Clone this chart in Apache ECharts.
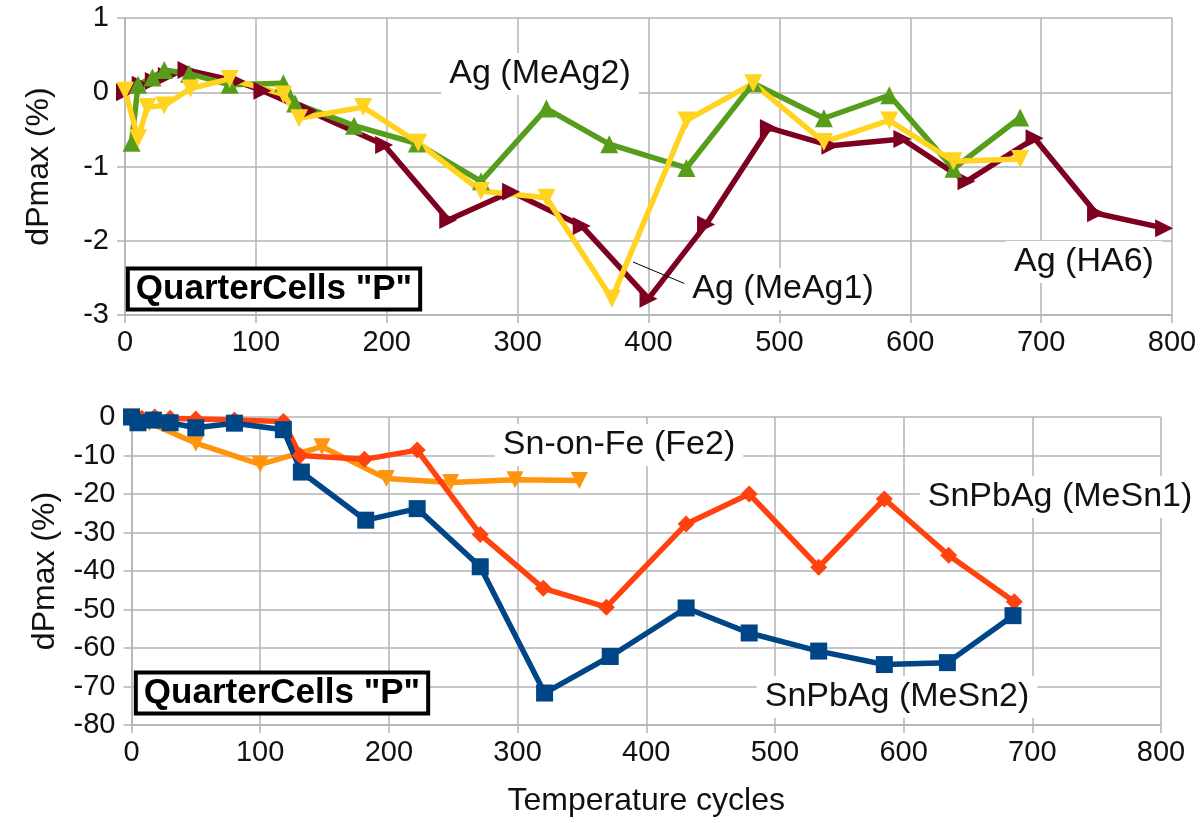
<!DOCTYPE html>
<html>
<head>
<meta charset="utf-8">
<script src="https://cdn.jsdelivr.net/npm/echarts@6/dist/echarts.min.js"></script>
<style>
  html, body { margin: 0; padding: 0; background: #fff; }
  #chart { width: 1202px; height: 823px; }
</style>
</head>
<body>
<div id="chart"></div>
<script>
// top panel: Ag cells
const ha6X = [0, 12, 22, 32, 47, 85, 105, 140, 198, 247, 295, 349, 400, 444, 492, 539, 594, 643, 695, 742, 794]
const ha6Y = [0, 0.1, 0.15, 0.22, 0.3, 0.15, 0.02, -0.25, -0.71, -1.72, -1.34, -1.8, -2.78, -1.78, -0.48, -0.72, -0.63, -1.2, -0.62, -1.63, -1.83]
const meAg2X = [5, 10, 21, 30, 49, 80, 121, 130, 175, 223, 272, 322, 370, 429, 480, 534, 584, 633, 684]
const meAg2Y = [-0.68, 0.1, 0.2, 0.3, 0.25, 0.1, 0.12, -0.15, -0.45, -0.69, -1.2, -0.22, -0.7, -1.02, 0.12, -0.35, -0.04, -1.03, -0.34]
const meAg1X = [0, 10, 17, 30, 50, 80, 121, 133, 182, 224, 272, 322, 372, 429, 480, 534, 584, 633, 684]
const meAg1Y = [0.02, -0.62, -0.2, -0.18, 0.05, 0.18, -0.03, -0.35, -0.2, -0.68, -1.33, -1.42, -2.78, -0.38, 0.12, -0.67, -0.38, -0.93, -0.9]

// bottom panel: Sn cells
const fe2X = [0, 14, 50, 100, 148, 198, 248, 298, 348]
const fe2Y = [0, -1.5, -6.8, -12.3, -7.7, -16, -17, -16.3, -16.5]
const meSn1X = [0, 8, 18, 30, 50, 80, 118, 131, 181, 222, 271, 320, 369, 431, 480, 534, 585, 635, 686]
const meSn1Y = [0, -0.3, 0, -0.3, -0.5, -0.8, -1.2, -10, -11, -8.6, -30.5, -44.5, -49.4, -27.8, -20, -39, -21.3, -35.9, -48]
const meSn2X = [0, 5, 17, 30, 50, 80, 118, 132, 182, 222, 271, 321, 372, 431, 480, 534, 585, 634, 685]
const meSn2Y = [0, -1.5, -0.8, -1.5, -2.8, -1.6, -3.3, -14.3, -26.8, -23.8, -38.9, -71.7, -62.2, -49.6, -56.1, -60.8, -64.3, -63.8, -51.6]

const xTicks = [0, 100, 200, 300, 400, 500, 600, 700, 800]

const FONT = 'Liberation Sans'
const GRID = '#b3b3b3'

function pairs (xs, ys) {
  return xs.map((x, i) => [x, ys[i]])
}

function mkSeries (name, xs, ys, color, symbol, rotate, size, idx) {
  return {
    name: name,
    type: 'line',
    xAxisIndex: idx,
    yAxisIndex: idx,
    data: pairs(xs, ys),
    symbol: symbol,
    symbolRotate: rotate,
    symbolSize: size,
    showSymbol: true,
    lineStyle: { color: color, width: 5.5 },
    itemStyle: { color: color, borderWidth: 0 },
    emphasis: { disabled: true },
    animation: false
  }
}

function xAxisCfg (idx, withName) {
  let cfg = {
    type: 'value',
    gridIndex: idx,
    min: xTicks[0],
    max: xTicks[xTicks.length - 1],
    interval: 100,
    axisLine: { show: true, onZero: false, lineStyle: { color: GRID, width: 1.5 } },
    axisTick: { show: true, length: 8, lineStyle: { color: GRID, width: 1.5 } },
    splitLine: { show: true, lineStyle: { color: GRID, width: 1.5 } },
    axisLabel: { fontFamily: FONT, fontSize: 29, color: '#111', margin: 13 }
  }
  if (withName) {
    cfg.name = 'Temperature cycles'
    cfg.nameLocation = 'middle'
    cfg.nameGap = 60
    cfg.nameTextStyle = { fontFamily: FONT, fontSize: 32, color: '#111' }
  }
  return cfg
}

function yAxisCfg (idx, min, max, interval) {
  return {
    type: 'value',
    gridIndex: idx,
    min: min,
    max: max,
    interval: interval,
    name: 'dPmax (%)',
    nameLocation: 'middle',
    nameGap: 70,
    nameTextStyle: { fontFamily: FONT, fontSize: 32, color: '#111' },
    axisLine: { show: true, lineStyle: { color: GRID, width: 1.5 } },
    axisTick: { show: true, length: 8, lineStyle: { color: GRID, width: 1.5 } },
    splitLine: { show: true, lineStyle: { color: GRID, width: 1.5 } },
    axisLabel: { fontFamily: FONT, fontSize: 29, color: '#111', margin: 16 }
  }
}

function note (text, x, y, size) {
  return {
    type: 'text',
    x: x,
    y: y,
    z: 100,
    style: {
      text: text,
      font: (size || 34) + 'px "' + FONT + '"',
      fill: '#111',
      align: 'center',
      verticalAlign: 'middle',
      backgroundColor: '#fff',
      padding: [4, 8]
    }
  }
}

function boxNote (x, y) {
  return {
    type: 'text',
    x: x,
    y: y,
    z: 100,
    style: {
      text: 'QuarterCells "P"',
      font: 'bold 35px "' + FONT + '"',
      fill: '#000',
      align: 'center',
      verticalAlign: 'middle',
      backgroundColor: '#fff',
      borderColor: '#000',
      borderWidth: 4,
      padding: [2, 6, 0, 6]
    }
  }
}

const chart = echarts.init(document.getElementById('chart'), null, { renderer: 'canvas' })

const option = {
  backgroundColor: '#fff',
  animation: false,
  grid: [
    { left: 125, top: 18, width: 1047, height: 297 },
    { left: 131.5, top: 417, width: 1029.5, height: 308 }
  ],
  xAxis: [xAxisCfg(0, false), xAxisCfg(1, true)],
  yAxis: [yAxisCfg(0, -3, 1, 1), yAxisCfg(1, -80, 0, 10)],
  series: [
    mkSeries('Ag (HA6)', ha6X, ha6Y, '#7e0021', 'triangle', -90, 18, 0),
    mkSeries('Ag (MeAg2)', meAg2X, meAg2Y, '#579d1c', 'triangle', 0, 18, 0),
    mkSeries('Ag (MeAg1)', meAg1X, meAg1Y, '#ffd320', 'triangle', 180, 18, 0),
    mkSeries('Sn-on-Fe (Fe2)', fe2X, fe2Y, '#ff950e', 'triangle', 180, 17, 1),
    mkSeries('SnPbAg (MeSn1)', meSn1X, meSn1Y, '#ff420e', 'diamond', 0, 17, 1),
    mkSeries('SnPbAg (MeSn2)', meSn2X, meSn2Y, '#004586', 'rect', 0, 17, 1)
  ],
  graphic: [
    note('Ag (MeAg2)', 540, 74),
    note('Ag (MeAg1)', 783, 289),
    note('Ag (HA6)', 1084, 262),
    {
      type: 'line',
      z: 99,
      shape: { x1: 633, y1: 262, x2: 688, y2: 285 },
      style: { stroke: '#000', lineWidth: 1 }
    },
    boxNote(274, 289),
    note('Sn-on-Fe (Fe2)', 619, 445),
    note('SnPbAg (MeSn1)', 1060, 497),
    note('SnPbAg (MeSn2)', 897, 697),
    boxNote(282, 693)
  ]
}

chart.setOption(option)
</script>
</body>
</html>
